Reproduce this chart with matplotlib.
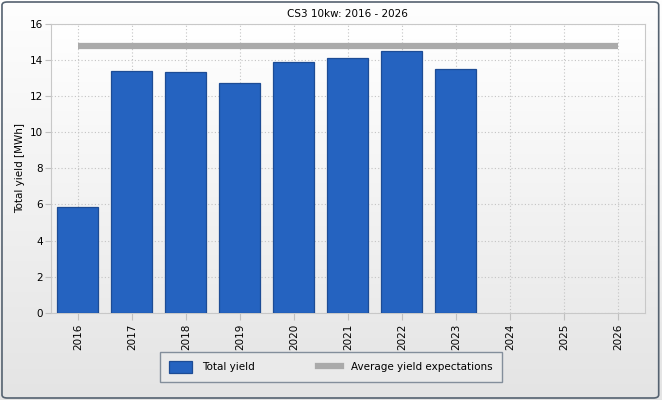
import numpy as np
import matplotlib
matplotlib.use("Agg")
import matplotlib.pyplot as plt
from matplotlib.patches import FancyBboxPatch, Patch
from matplotlib.lines import Line2D

# data
years = ["2016", "2017", "2018", "2019", "2020", "2021",
         "2022", "2023", "2024", "2025", "2026"]
total_yield = [5.85, 13.36, 13.32, 12.74, 13.91, 14.08, 14.47, 13.47]
avg_expect = 14.76

plt.rcParams['font.family'] = ['DejaVu Sans']

fig = plt.figure(figsize=(6.62, 4.0), dpi=100)

# background panel with soft gradient and rounded frame
bg = fig.add_axes([0, 0, 1, 1], zorder=-10)
grad = np.linspace(0, 1, 256).reshape(-1, 1)
bg.imshow(grad, aspect='auto', cmap=matplotlib.colors.LinearSegmentedColormap.from_list(
    'bgc', ['#fefefe', '#e4e4e4']), extent=[0, 1, 0, 1], origin='upper')
bg.set_xlim(0, 1)
bg.set_ylim(0, 1)
bg.axis('off')
frame = FancyBboxPatch((0.003, 0.005), 0.992, 0.99,
                       boxstyle="round,pad=0,rounding_size=0.008",
                       transform=bg.transAxes, fill=False,
                       edgecolor='#556270', linewidth=1.2)
bg.add_patch(frame)

ax = fig.add_axes([0.077, 0.218, 0.897, 0.7225])
ax.imshow(grad, aspect='auto', cmap=matplotlib.colors.LinearSegmentedColormap.from_list(
    'axc', ['#ffffff', '#ebebeb']), extent=[-0.5, 10.5, 0, 16], origin='upper', zorder=0)

x = np.arange(len(years))
ax.bar(x[:len(total_yield)], total_yield, width=0.76, color='#2563c0',
       edgecolor='#1d4c95', linewidth=0.9, zorder=3)
ax.plot([x[0], x[-1]], [avg_expect, avg_expect], color='#aaaaaa',
        linewidth=4.5, solid_capstyle='butt', zorder=4)

ax.set_xlim(-0.5, 10.5)
ax.set_ylim(0, 16)
ax.set_yticks(np.arange(0, 17, 2))
ax.set_xticks(x)
ax.set_xticklabels(years, rotation=90, fontsize=7.5)
ax.tick_params(axis='y', labelsize=7.5, length=4, color='#c0c0c0', pad=2)
ax.tick_params(axis='x', length=5, color='#c0c0c0', pad=3)
for t in ax.xaxis.get_ticklines() + ax.yaxis.get_ticklines():
    t.set_linestyle((0, (1, 1)))
ax.grid(True, linestyle=(0, (1, 2)), color='#c4c4c4', linewidth=0.8, zorder=1)
ax.set_axisbelow(True)
for s in ax.spines.values():
    s.set_color('#c8c8c8')
ax.set_ylabel("Total yield [MWh]", fontsize=7.5, labelpad=3)
ax.set_title("CS3 10kw: 2016 - 2026", fontsize=7.5, pad=5)

handles = [Patch(facecolor='#2563c0', edgecolor='#1d4c95', linewidth=0.9),
           Line2D([0], [0], color='#aaaaaa', linewidth=4.5)]
leg = fig.legend(handles, ["Total yield", "Average yield expectations"],
                 loc='center', bbox_to_anchor=(0.5, 0.0825), ncol=2,
                 fontsize=7.5, frameon=True, fancybox=False,
                 columnspacing=6.0, handlelength=2.2, handleheight=1.4,
                 borderpad=0.9, handletextpad=1.0)
leg.get_frame().set_edgecolor('#6a7888')
leg.get_frame().set_facecolor('#ececec')
leg.get_frame().set_linewidth(1.0)

fig.savefig("out.png", dpi=100)
